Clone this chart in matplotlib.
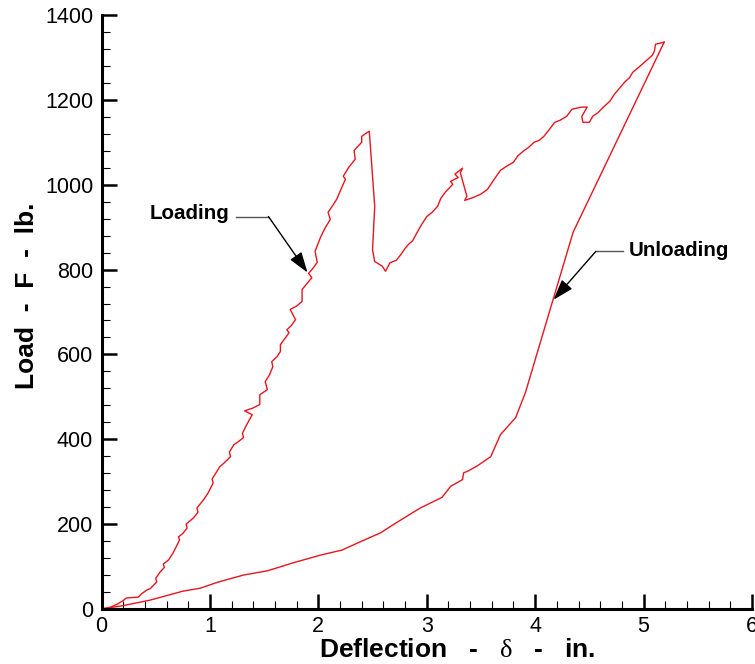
import matplotlib
matplotlib.use("Agg")
import matplotlib.pyplot as plt
from matplotlib.ticker import MultipleLocator

plt.rcParams['font.family'] = ['Liberation Sans', 'DejaVu Sans']
plt.rcParams['mathtext.fontset'] = 'custom'
plt.rcParams['mathtext.rm'] = 'Liberation Serif'

# loading branch (deflection in., load lb.)
load_x = [0, 0.08, 0.15, 0.20, 0.23, 0.28, 0.34, 0.37, 0.42, 0.45, 0.51, 0.50, 0.54, 0.58, 0.57,
          0.62, 0.66, 0.68, 0.72, 0.71, 0.75, 0.79, 0.78, 0.85, 0.89, 0.88, 0.94, 0.98, 1.03, 1.02,
          1.09, 1.13, 1.19, 1.18, 1.22, 1.27, 1.31, 1.30, 1.33, 1.39, 1.32, 1.40, 1.46, 1.46, 1.53,
          1.51, 1.55, 1.58, 1.57, 1.62, 1.65, 1.65, 1.73, 1.71, 1.75, 1.79, 1.74, 1.80, 1.85, 1.85,
          1.94, 1.91, 1.95, 1.99, 1.97, 2.02, 2.06, 2.11, 2.09, 2.13, 2.17, 2.21, 2.25, 2.23, 2.28,
          2.34, 2.33, 2.40, 2.40, 2.45, 2.47, 2.52, 2.50, 2.52, 2.59, 2.62, 2.66, 2.72, 2.76, 2.80,
          2.83, 2.87, 2.91, 2.95, 3.00, 3.05, 3.10, 3.13, 3.17, 3.24, 3.22, 3.29, 3.26, 3.33, 3.31,
          3.37, 3.35, 3.43, 3.50, 3.56, 3.62, 3.68, 3.74, 3.80, 3.84, 3.89, 3.94, 3.99, 4.04, 4.08,
          4.13, 4.18, 4.23, 4.29, 4.34, 4.43, 4.48, 4.43, 4.44, 4.50, 4.53, 4.58, 4.63, 4.69, 4.73,
          4.77, 4.83, 4.87, 4.90, 4.97, 5.04, 5.08, 5.10, 5.11, 5.19]
load_y = [0, 4, 12, 20, 26, 27, 28, 36, 45, 48, 64, 72, 87, 98, 106,
          116, 132, 142, 163, 170, 178, 191, 200, 215, 228, 238, 257, 272, 297, 306,
          335, 344, 359, 370, 387, 396, 404, 414, 430, 458, 467, 474, 482, 505, 517,
          536, 552, 571, 583, 595, 607, 623, 651, 658, 668, 682, 706, 714, 725, 753,
          781, 791, 803, 817, 843, 876, 897, 918, 935, 950, 966, 990, 1013, 1020, 1041,
          1060, 1081, 1100, 1114, 1123, 1126, 949, 847, 819, 808, 796, 816, 822, 835, 850,
          859, 868, 887, 905, 925, 935, 949, 968, 982, 1001, 1008, 1017, 1025, 1039, 1028,
          973, 963, 970, 978, 989, 1012, 1034, 1044, 1053, 1068, 1079, 1088, 1100, 1105, 1114,
          1130, 1147, 1152, 1161, 1178, 1183, 1183, 1161, 1147, 1147, 1161, 1170, 1183, 1197, 1213,
          1225, 1243, 1252, 1265, 1280, 1296, 1305, 1315, 1331, 1336]

# unloading branch
unload_x = [5.19, 4.35, 3.91, 3.82, 3.68, 3.59, 3.47, 3.38, 3.34, 3.33, 3.22, 3.14, 2.94, 2.73,
            2.57, 2.40, 2.22, 2.02, 1.77, 1.53, 1.31, 1.07, 0.91, 0.75, 0.45, 0.20, 0]
unload_y = [1336, 888, 510, 451, 411, 359, 338, 325, 321, 305, 289, 263, 238, 205,
            179, 160, 139, 127, 109, 90, 80, 63, 49, 42, 21, 8, 0]

fig = plt.figure(figsize=(7.55, 6.64), dpi=100)
ax = fig.add_axes([101.5 / 755, 55 / 664, 650.5 / 755, 594 / 664])

ax.plot(load_x, load_y, color='#e8141e', lw=1.0)
ax.plot(unload_x, unload_y, color='#e8141e', lw=1.0)

ax.set_xlim(0, 6)
ax.set_ylim(0, 1400)
ax.xaxis.set_major_locator(MultipleLocator(1))
ax.xaxis.set_minor_locator(MultipleLocator(0.2))
ax.yaxis.set_major_locator(MultipleLocator(200))
ax.yaxis.set_minor_locator(MultipleLocator(40))

for s in ['top', 'right']:
    ax.spines[s].set_visible(False)
for s in ['left', 'bottom']:
    ax.spines[s].set_linewidth(2.2)

ax.tick_params(which='major', direction='in', length=11, width=1.8, labelsize=15.5)
ax.tick_params(which='minor', direction='in', length=6, width=0.8)
ax.tick_params(axis='x', which='major', pad=5)
ax.tick_params(axis='y', which='major', pad=6)

ax.set_xlabel('Deflection   -   $\\mathrm{\\delta}$   -   in.', fontsize=19, fontweight='bold')
ax.set_ylabel('Load  -  F  -  lb.', fontsize=19, fontweight='bold')
ax.xaxis.set_label_coords(0.5465, -0.069)
ax.xaxis.label.set_va('center')
ax.yaxis.set_label_coords(-0.1145, 0.527)
ax.yaxis.label.set_va('center')

# annotations with elbow leaders
ax.text(1.18, 932, 'Loading', fontsize=14.8, fontweight='bold', ha='right', va='center')
ax.plot([1.24, 1.54], [925, 925], color='#555555', lw=1.0)
ax.annotate('', xy=(1.90, 793), xytext=(1.54, 925),
            arrowprops=dict(arrowstyle='-|>,head_length=0.9,head_width=0.3',
                            color='black', lw=1.0, shrinkA=0, shrinkB=0, mutation_scale=14))

ax.text(4.86, 845, 'Unloading', fontsize=14.8, fontweight='bold', ha='left', va='center')
ax.plot([4.56, 4.81], [843, 843], color='#555555', lw=1.0)
ax.annotate('', xy=(4.17, 729), xytext=(4.56, 843),
            arrowprops=dict(arrowstyle='-|>,head_length=0.9,head_width=0.3',
                            color='black', lw=1.0, shrinkA=0, shrinkB=0, mutation_scale=14))

fig.savefig('out.png', dpi=100)
